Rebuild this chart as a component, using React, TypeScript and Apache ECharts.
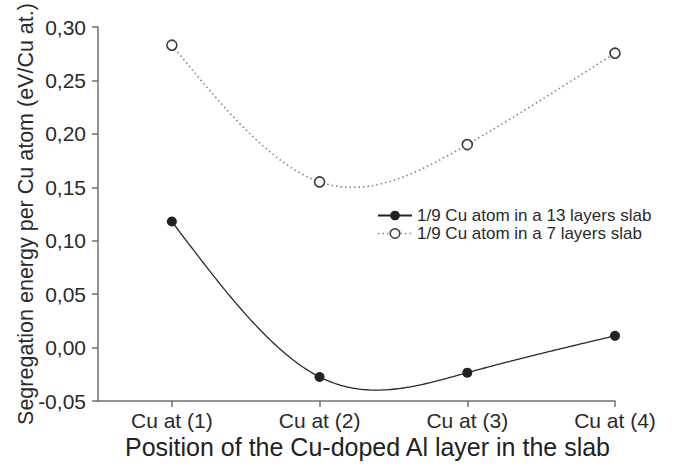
import { useEffect, useRef } from 'react';
import * as echarts from 'echarts';

// Layer positions along the slab (x) and their labels
const positions = [1, 2, 3, 4];
const categories = ['Cu at (1)', 'Cu at (2)', 'Cu at (3)', 'Cu at (4)'];

// Segregation energies (eV/Cu at.)
const slab13 = [0.118, -0.0275, -0.0235, 0.011];
const slab7 = [0.283, 0.155, 0.19, 0.2755];

const seriesNames = ['1/9 Cu atom in a 13 layers slab', '1/9 Cu atom in a 7 layers slab'];

const FONT = '"Liberation Sans", Arial, Helvetica, sans-serif';

const DARK = '#222222';
const DOT_GREY = '#858585';
const DOTS = [1.5, 3];

// Natural cubic spline through (xs, ys); returns an evaluator
function naturalSpline(xs: number[], ys: number[]) {
  const n = xs.length;
  const h: number[] = [];
  for (let i = 0; i < n - 1; i++) h.push(xs[i + 1] - xs[i]);
  const M = new Array(n).fill(0);
  if (n > 2) {
    const a: number[] = [], b: number[] = [], c: number[] = [], d: number[] = [];
    for (let i = 1; i < n - 1; i++) {
      a.push(h[i - 1]);
      b.push(2 * (h[i - 1] + h[i]));
      c.push(h[i]);
      d.push(6 * ((ys[i + 1] - ys[i]) / h[i] - (ys[i] - ys[i - 1]) / h[i - 1]));
    }
    const m = b.length;
    for (let i = 1; i < m; i++) {
      const w = a[i] / b[i - 1];
      b[i] -= w * c[i - 1];
      d[i] -= w * d[i - 1];
    }
    const sol = new Array(m).fill(0);
    sol[m - 1] = d[m - 1] / b[m - 1];
    for (let i = m - 2; i >= 0; i--) sol[i] = (d[i] - c[i] * sol[i + 1]) / b[i];
    for (let i = 0; i < m; i++) M[i + 1] = sol[i];
  }
  return (x: number) => {
    let k = 0;
    while (k < n - 2 && x > xs[k + 1]) k++;
    const hk = h[k];
    const A = (xs[k + 1] - x) / hk;
    const B = (x - xs[k]) / hk;
    return (
      A * ys[k] +
      B * ys[k + 1] +
      ((A * A * A - A) * M[k] + (B * B * B - B) * M[k + 1]) * (hk * hk) / 6
    );
  };
}

// Custom series drawing the spline through a data set via the chart's coordinate system
function splineSeries(values: number[], stroke: string, width: number, dash: number[] | null) {
  const f = naturalSpline(positions, values);
  return {
    type: 'custom',
    silent: true,
    z: 2,
    data: positions.map((p, i) => [p, values[i]]),
    encode: { x: 0, y: 1 },
    renderItem: (params: any, api: any) => {
      if (params.dataIndex !== 0) return null;
      const pts: number[][] = [];
      const x0 = positions[0];
      const x1 = positions[positions.length - 1];
      const steps = 180;
      for (let s = 0; s <= steps; s++) {
        const x = x0 + ((x1 - x0) * s) / steps;
        pts.push(api.coord([x, f(x)]));
      }
      return {
        type: 'polyline',
        shape: { points: pts },
        style: {
          stroke,
          lineWidth: width,
          fill: 'none',
          lineDash: dash ?? undefined,
        },
      };
    },
  };
}

export default function App() {
  const ref = useRef<HTMLDivElement>(null);

  useEffect(() => {
    if (!ref.current) return;
    const chart = echarts.init(ref.current, undefined, { renderer: 'svg' });

    const toPairs = (vals: number[]) => positions.map((p, i) => [p, vals[i]]);

    chart.setOption({
      animation: false,
      backgroundColor: '#ffffff',
      textStyle: { fontFamily: FONT },
      grid: { left: 98, right: 60, top: 27, bottom: 66, outerBoundsMode: 'none', containLabel: false },
      legend: {
        orient: 'vertical',
        left: 372,
        top: 202,
        itemWidth: 34,
        itemHeight: 12,
        itemGap: 1,
        textStyle: { fontFamily: FONT, fontSize: 17, color: '#2a2a2a', lineHeight: 17 },
        data: [
          {
            name: seriesNames[0],
            itemStyle: { color: DARK, borderWidth: 0 },
            lineStyle: { color: DARK, width: 2, opacity: 1, type: 'solid' },
          },
          {
            name: seriesNames[1],
            itemStyle: { color: '#ffffff', borderColor: '#3a3a3a', borderWidth: 1.5 },
            lineStyle: { color: DOT_GREY, width: 1.6, opacity: 1, type: DOTS },
          },
        ],
      },
      xAxis: {
        type: 'value',
        min: 0.5,
        max: 4,
        name: 'Position of the Cu-doped Al layer in the slab',
        nameLocation: 'middle',
        nameGap: 33,
        nameMoveOverlap: false,
        nameTextStyle: { fontFamily: FONT, fontSize: 25, color: '#222', padding: [0, 0, 0, 22] },
        axisLine: { show: true, onZero: false, lineStyle: { color: '#6f6f6f', width: 1.5 } },
        axisTick: { show: true, length: 6, customValues: positions, lineStyle: { color: '#6f6f6f', width: 1.5 } },
        axisLabel: {
          customValues: positions,
          margin: 9,
          fontFamily: FONT,
          fontSize: 21,
          color: '#2a2a2a',
          formatter: (v: number) => categories[Math.round(v) - 1] ?? '',
        },
        splitLine: { show: false },
      },
      yAxis: {
        type: 'value',
        min: -0.05,
        max: 0.3,
        interval: 0.05,
        name: 'Segregation energy per Cu atom (eV/Cu at.)',
        nameLocation: 'middle',
        nameGap: 61,
        nameMoveOverlap: false,
        nameTextStyle: { fontFamily: FONT, fontSize: 21.5, color: '#2a2a2a' },
        axisLine: { show: true, lineStyle: { color: '#6f6f6f', width: 1.5 } },
        axisTick: { show: true, length: 6, lineStyle: { color: '#6f6f6f', width: 1.5 } },
        axisLabel: {
          margin: 12,
          fontFamily: FONT,
          fontSize: 21,
          color: '#2a2a2a',
          formatter: (v: number) => v.toFixed(2).replace('.', ','),
        },
        splitLine: { show: false },
      },
      series: [
        {
          name: seriesNames[0],
          type: 'line',
          data: toPairs(slab13),
          symbol: 'circle',
          symbolSize: 10,
          itemStyle: { color: DARK, borderColor: DARK, borderWidth: 0 },
          lineStyle: { opacity: 0 },
          z: 3,
        },
        {
          name: seriesNames[1],
          type: 'line',
          data: toPairs(slab7),
          symbol: 'circle',
          symbolSize: 10,
          itemStyle: { color: '#ffffff', borderColor: '#3a3a3a', borderWidth: 1.6 },
          lineStyle: { opacity: 0 },
          z: 3,
        },
        splineSeries(slab13, '#2a2a2a', 1.3, null),
        splineSeries(slab7, DOT_GREY, 1.6, DOTS),
      ],
      graphic: [
        {
          type: 'rect',
          right: 0,
          top: 0,
          z: 100,
          shape: { width: 19, height: 467 },
          style: { fill: '#ffffff' },
        },
      ],
    });

    return () => chart.dispose();
  }, []);

  return (
    <div
      ref={ref}
      style={{ position: 'fixed', left: 0, top: 0, width: 675, height: 467, background: '#fff' }}
    />
  );
}
